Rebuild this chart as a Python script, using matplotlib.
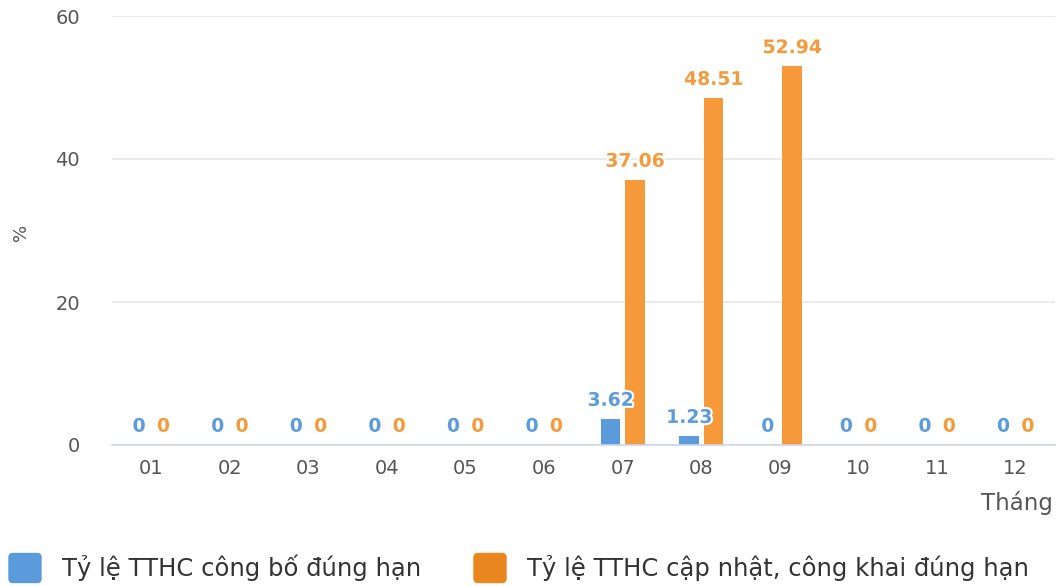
import matplotlib
matplotlib.use("Agg")
import matplotlib.pyplot as plt
import matplotlib.patheffects as pe
from matplotlib.patches import FancyBboxPatch
import numpy as np

months = ["01", "02", "03", "04", "05", "06", "07", "08", "09", "10", "11", "12"]
cong_bo = [0, 0, 0, 0, 0, 0, 3.62, 1.23, 0, 0, 0, 0]
cap_nhat = [0, 0, 0, 0, 0, 0, 37.06, 48.51, 52.94, 0, 0, 0]
series_names = ["Tỷ lệ TTHC công bố đúng hạn", "Tỷ lệ TTHC cập nhật, công khai đúng hạn"]
yticks = [0, 20, 40, 60]

blue = "#5b9bdc"
orange = "#f5993a"
leg_colors = ["#5b9bdc", "#ea8620"]

plt.rcParams['font.family'] = ['DejaVu Sans']

W, H = 1059, 586
fig = plt.figure(figsize=(W / 100, H / 100), dpi=100)
ax = fig.add_axes([112 / W, 1 - 445 / H, 943 / W, 429 / H])

x = np.arange(len(months))
w = 0.25
off = 0.155
ax.bar(x - off, cong_bo, width=w, color=blue, zorder=3)
ax.bar(x + off, cap_nhat, width=w, color=orange, zorder=3)

stroke = [pe.withStroke(linewidth=3, foreground="white")]
for i in range(len(months)):
    ax.text(x[i] - off, cong_bo[i] + 1.3, f"{cong_bo[i]:g}", ha="center", va="bottom",
            color=blue, fontsize=13.5, fontweight="bold", path_effects=stroke, zorder=5)
    ax.text(x[i] + off, cap_nhat[i] + 1.3, f"{cap_nhat[i]:g}", ha="center", va="bottom",
            color=orange, fontsize=13.5, fontweight="bold", path_effects=stroke, zorder=5)

ax.set_xlim(-0.5, len(months) - 0.5)
ax.set_ylim(0, 60)
ax.set_yticks(yticks)
ax.set_xticks(x)
ax.set_xticklabels(months)
ax.tick_params(axis="both", length=0, labelsize=14, labelcolor="#555555")
ax.tick_params(axis="x", pad=10)
ax.tick_params(axis="y", pad=23)
ax.grid(axis="y", color="#e6e6e6", linewidth=1.2, zorder=0)
for s in ["top", "right", "left"]:
    ax.spines[s].set_visible(False)
ax.spines["bottom"].set_color("#ccd6eb")
ax.spines["bottom"].set_linewidth(1.2)
ax.spines["bottom"].set_zorder(4)

fig.text(21 / W, 1 - 232 / H, "%", rotation=90, ha="center", va="center",
         fontsize=13, color="#555555")
fig.text(1053 / W, 1 - 503 / H, "Tháng", ha="right", va="center", fontsize=16.5, color="#555555")

# legend (manual, rounded square symbols)
leg_sym_x = [9, 474]
leg_txt_x = [62, 527]
leg_y = 568
sw, sh = 32, 29
r = 4
for sx, tx, col, name in zip(leg_sym_x, leg_txt_x, leg_colors, series_names):
    p = FancyBboxPatch(((sx + r) / W, 1 - (leg_y + sh / 2 - r) / H), (sw - 2 * r) / W, (sh - 2 * r) / H,
                       boxstyle=f"round,pad={r / W},rounding_size={r / W}",
                       transform=fig.transFigure, facecolor=col, edgecolor=col,
                       mutation_aspect=W / H)
    fig.patches.append(p)
    fig.text(tx / W, 1 - leg_y / H, name, ha="left", va="center", fontsize=17.5, color="#333333")

fig.savefig("out.png", dpi=100)
